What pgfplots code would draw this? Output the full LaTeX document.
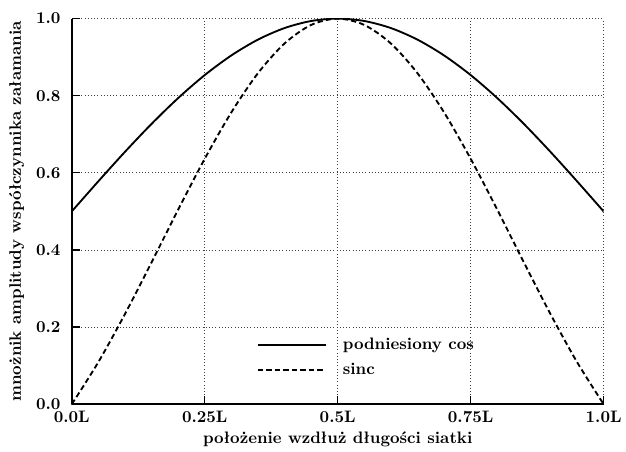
\documentclass[border=0pt]{standalone}
\usepackage{fontspec}
\usepackage{pgfplots}
\pgfplotsset{compat=1.18}
\newfontfamily\cmbx{lmroman10-bold}[Extension=.otf]
\newcommand{\lbl}{\fontsize{12.5}{15}\selectfont\cmbx}
\begin{document}
\begin{tikzpicture}
\begin{axis}[
    scale only axis,
    width=400pt, height=290pt,
    xmin=0, xmax=1, ymin=0, ymax=1,
    axis lines=left,
    axis line style={-, line width=1.2pt},
    tick align=inside,
    major tick length=6pt,
    tick style={line width=0.9pt, black},
    xtick={0,0.25,0.5,0.75,1},
    xticklabels={0.0L,0.25L,0.5L,0.75L,1.0L},
    ytick={0,0.2,0.4,0.6,0.8,1},
    yticklabels={0.0,0.2,0.4,0.6,0.8,1.0},
    /pgf/number format/assume math mode=true,
    ticklabel style={font=\lbl},
    xticklabel style={yshift=-2pt},
    yticklabel style={xshift=-5pt},
    grid=major,
    grid style={dotted, black!75, line width=0.6pt},
    xlabel={położenie wzdłuż długości siatki},
    ylabel={mnożnik amplitudy współczynnika załamania},
    label style={font=\lbl},
    ylabel style={yshift=2pt},
    legend style={draw=none, fill=none, font=\lbl, at={(0.34,0.186)}, anchor=north west, row sep=5pt},
    legend cell align=left,
    legend image code/.code={\draw[#1] (0pt,0pt) -- (51pt,0pt); \path[draw=none] (51pt,0pt) -- (62pt,0pt);},
]
\addplot[black, line width=1.4pt, smooth] coordinates {
(0.00,0.5000) (0.05,0.5782) (0.10,0.6545) (0.15,0.7270) (0.20,0.7939)
(0.25,0.8536) (0.30,0.9045) (0.35,0.9455) (0.40,0.9755) (0.45,0.9938)
(0.50,1.0000) (0.55,0.9938) (0.60,0.9755) (0.65,0.9455) (0.70,0.9045)
(0.75,0.8536) (0.80,0.7939) (0.85,0.7270) (0.90,0.6545) (0.95,0.5782)
(1.00,0.5000)
};
\addlegendentry{podniesiony cos}
\addplot[black, line width=1.4pt, smooth, dash pattern=on 4pt off 2.4pt] coordinates {
(0.00,0.0000) (0.05,0.1093) (0.10,0.2339) (0.15,0.3679) (0.20,0.5046)
(0.25,0.6366) (0.30,0.7568) (0.35,0.8584) (0.40,0.9355) (0.45,0.9836)
(0.50,1.0000) (0.55,0.9836) (0.60,0.9355) (0.65,0.8584) (0.70,0.7568)
(0.75,0.6366) (0.80,0.5046) (0.85,0.3679) (0.90,0.2339) (0.95,0.1093)
(1.00,0.0000)
};
\addlegendentry{sinc}
\end{axis}
\path ([yshift=14pt]current axis.north) ([xshift=-54pt]current axis.west);
\end{tikzpicture}
\end{document}
